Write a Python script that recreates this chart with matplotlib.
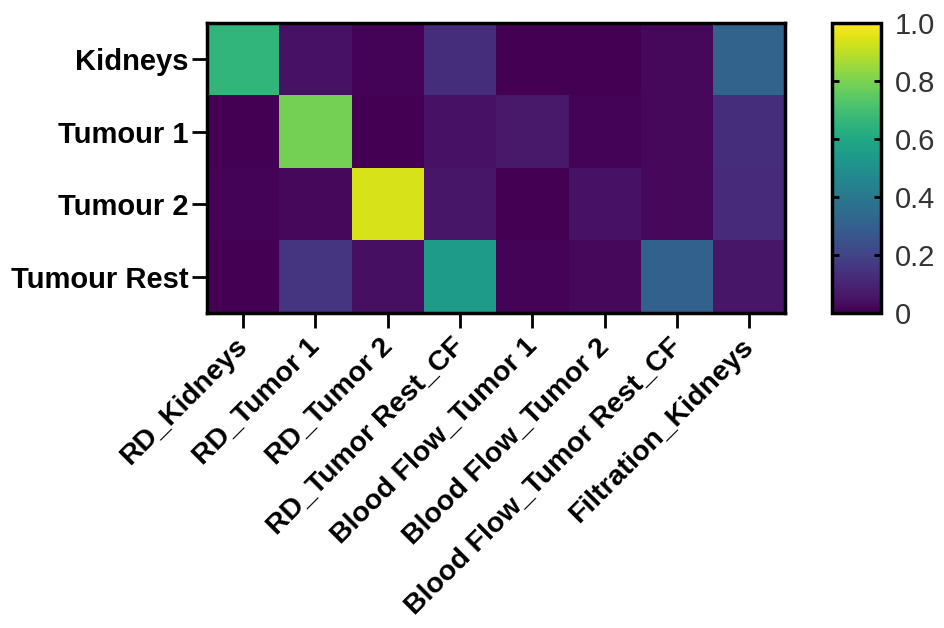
import numpy as np
import matplotlib.pyplot as plt
import matplotlib.transforms as mtransforms

ROW_LABELS = ['Kidneys', 'Tumour 1', 'Tumour 2', 'Tumour Rest']
COL_LABELS = [
    'RD_Kidneys',
    'RD_Tumor 1',
    'RD_Tumor 2',
    'RD_Tumor Rest_CF',
    'Blood Flow_Tumor 1',
    'Blood Flow_Tumor 2',
    'Blood Flow_Tumor Rest_CF',
    'Filtration_Kidneys',
]

KIDNEYS = [0.66, 0.05, 0.01, 0.13, 0.00, 0.00, 0.02, 0.32]
TUMOUR_1 = [0.00, 0.79, 0.00, 0.05, 0.07, 0.01, 0.02, 0.13]
TUMOUR_2 = [0.01, 0.02, 0.94, 0.06, 0.00, 0.05, 0.02, 0.12]
TUMOUR_REST = [0.00, 0.15, 0.04, 0.55, 0.01, 0.02, 0.31, 0.06]

CBAR_TICKS = [0, 0.2, 0.4, 0.6, 0.8, 1.0]
CBAR_LABELS = ['0', '0.2', '0.4', '0.6', '0.8', '1.0']

plt.rcParams['font.family'] = ['Liberation Sans', 'DejaVu Sans']

data = np.array([KIDNEYS, TUMOUR_1, TUMOUR_2, TUMOUR_REST])

fig = plt.figure(figsize=(9.45, 6.28), dpi=100)
ax = fig.add_axes([0.219, 0.502, 0.612, 0.461])
cax = fig.add_axes([0.880, 0.502, 0.052, 0.461])

im = ax.imshow(data, cmap='viridis', vmin=0, vmax=1, aspect='auto',
               interpolation='nearest')

ax.set_xticks(np.arange(len(COL_LABELS)))
ax.set_xticklabels(COL_LABELS, rotation=45, ha='right', rotation_mode='anchor',
                   fontsize=20.5, fontweight='bold')
ax.set_yticks(np.arange(len(ROW_LABELS)))
ax.set_yticklabels(ROW_LABELS, fontsize=21, fontweight='bold')
ax.tick_params(axis='both', direction='out', length=11, width=2)
ax.tick_params(axis='y', pad=2)
ax.tick_params(axis='x', pad=4)
for s in ax.spines.values():
    s.set_linewidth(2.5)

# nudge the rotated labels a little to the left, like the original
shift = mtransforms.ScaledTranslation(-6 / 72, 0, fig.dpi_scale_trans)
for lbl in ax.get_xticklabels():
    lbl.set_transform(lbl.get_transform() + shift)

cb = fig.colorbar(im, cax=cax, ticks=CBAR_TICKS)
cb.ax.set_yticklabels(CBAR_LABELS, fontsize=21, color='#333333')
cb.ax.tick_params(direction='in', length=5, width=2, left=True, right=True, pad=10)
cb.outline.set_linewidth(2.5)

plt.savefig('out.png', dpi=100)
